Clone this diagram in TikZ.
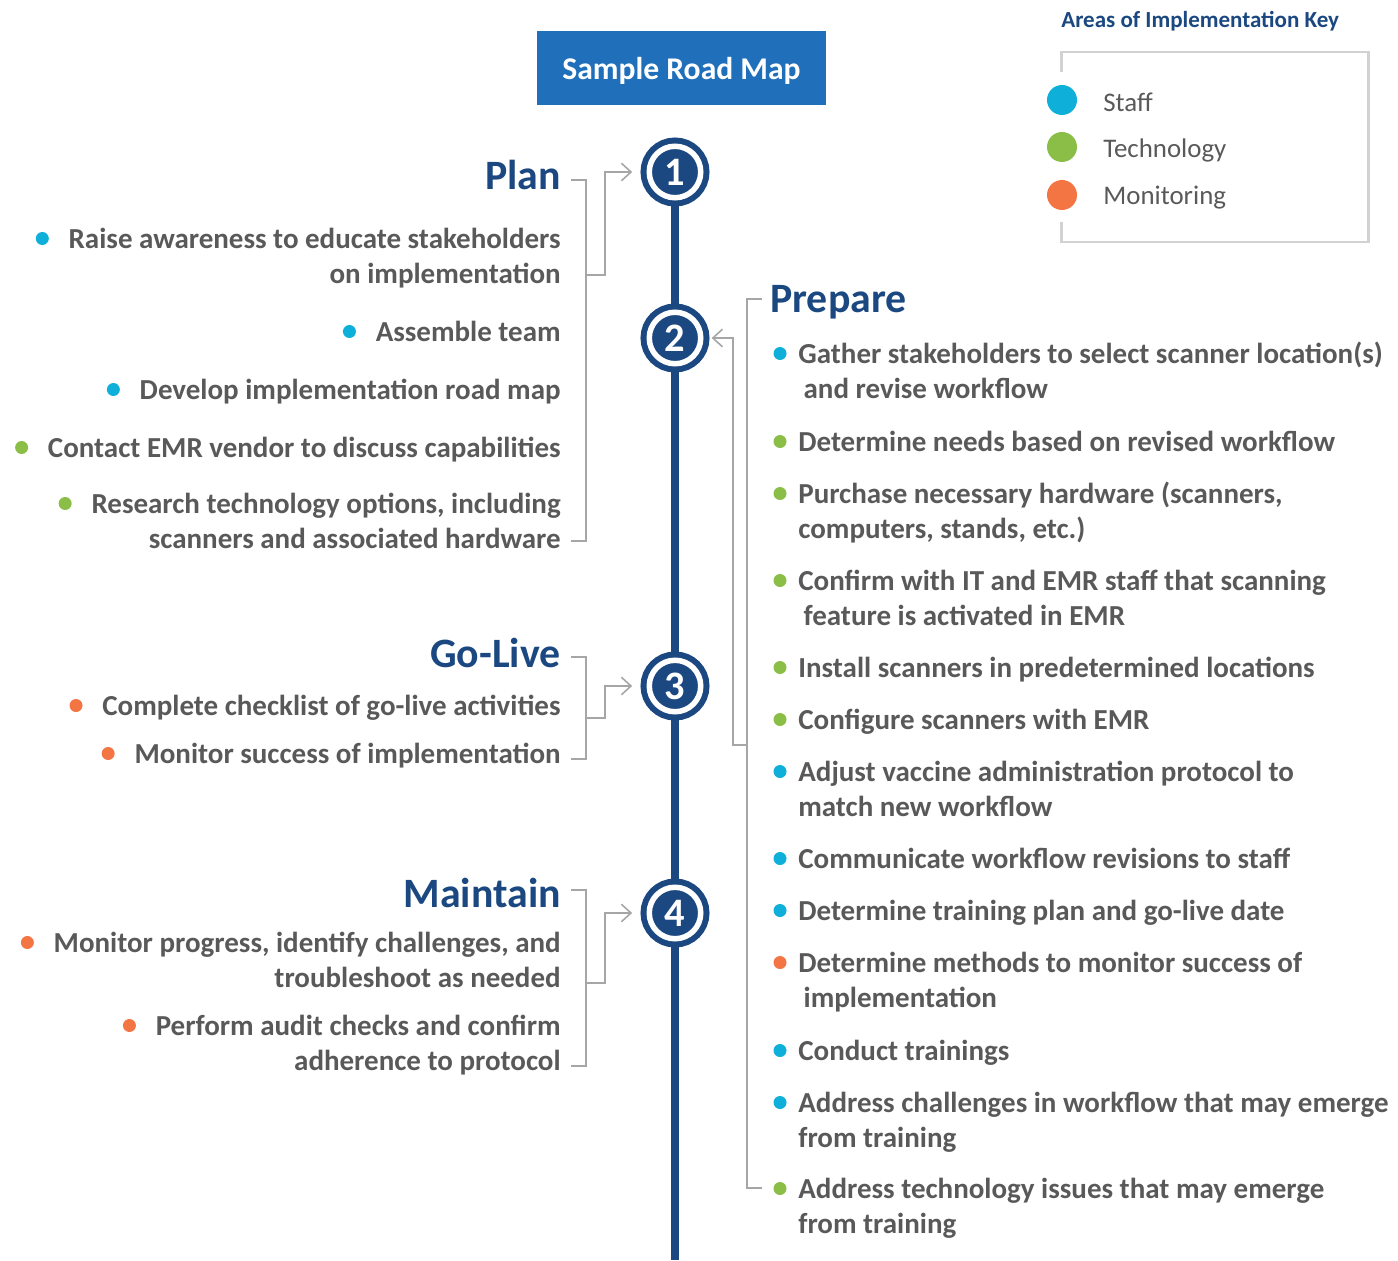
\documentclass[tikz,border=0pt]{standalone}
\usepackage{fontspec}
\setmainfont{Carlito}
\usepackage{xcolor}
\usepackage{tikz}
\usetikzlibrary{arrows.meta,calc}

\definecolor{navy}{RGB}{27,72,128}
\definecolor{titleblue}{RGB}{31,111,186}
\definecolor{textgrey}{RGB}{89,89,89}
\definecolor{linegrey}{RGB}{166,166,166}
\definecolor{keygrey}{RGB}{210,210,210}
\definecolor{staff}{RGB}{14,175,216}
\definecolor{tech}{RGB}{139,190,71}
\definecolor{monitor}{RGB}{243,117,68}

\begin{document}
\begin{tikzpicture}[x=0.02cm,y=-0.02cm]
\tikzstyle{every node}=[inner sep=0pt]
\tikzstyle{phase}=[font=\bfseries\fontsize{23.8}{28}\selectfont,text=navy]
\tikzstyle{item}=[font=\bfseries\fontsize{16.5}{19.9}\selectfont,text=textgrey]
\tikzstyle{litem}=[item,align=right,anchor=base east]
\tikzstyle{ritem}=[item,align=left,anchor=base west]
\tikzstyle{keytext}=[font=\fontsize{15.3}{18}\selectfont,text=textgrey,anchor=base west]
\tikzstyle{stepnum}=[circle,fill=navy,draw=navy,double=white,double distance=0.11cm,
  line width=0.12cm,minimum size=1.03cm,text=white,font=\bfseries\fontsize{23}{23}\selectfont]
\tikzstyle{brk}=[draw=linegrey,line width=0.9pt]
\tikzstyle{brkarrow}=[brk,-{Straight Barb[length=5.5pt,width=10pt]}]

\useasboundingbox (0,0) rectangle (1398,1260);

% title and key
\node[fill=titleblue,text=white,minimum width=5.78cm,minimum height=1.48cm,text depth=0pt,
  font=\bfseries\fontsize{18}{20}\selectfont] (title) at (681.5,68) {Sample Road Map};

\node[anchor=base west,text=navy,font=\bfseries\fontsize{13.1}{15}\selectfont] (keytitle) at (1061,28) {Areas of Implementation Key};
\draw[keygrey,line width=1.7pt] (1061,72) -- (1061,52) -- (1368,52) -- (1368,242) -- (1061,242) -- (1061,222);
\fill[staff] (1062,100) circle (15);
\fill[tech] (1062,147) circle (15);
\fill[monitor] (1062,195) circle (15);
\node[keytext] (kstaff) at (1103,112) {Staff};
\node[keytext] (ktech) at (1103,158) {Technology};
\node[keytext] (kmon) at (1103,205) {Monitoring};

% timeline
\coordinate (top) at (675,172);
\coordinate (bottom) at (675,1260);
\draw[navy,line width=4.5pt] (top) -- (bottom);
\node[stepnum] (c1) at (675,172) {1};
\node[stepnum] (c2) at (675,338) {2};
\node[stepnum] (c3) at (675,686) {3};
\node[stepnum] (c4) at (675,913) {4};

% plan
\node[phase,anchor=base east] (plan) at (561,190) {Plan};
\node[litem] (raise) at (561,283) {Raise awareness to educate stakeholders\\on implementation};
\node[litem] (assemble) at (561,341) {Assemble team};
\node[litem] (develop) at (561,399) {Develop implementation road map};
\node[litem] (contact) at (561,457) {Contact EMR vendor to discuss capabilities};
\node[litem] (research) at (561,548) {Research technology options, including\\scanners and associated hardware};
\fill[staff] ($(raise.base west)+(-26,-44.5)$) circle (6.5);
\fill[staff] ($(assemble.base west)+(-26,-9.5)$) circle (6.5);
\fill[staff] ($(develop.base west)+(-26,-9.5)$) circle (6.5);
\fill[tech] ($(contact.base west)+(-26,-9.5)$) circle (6.5);
\fill[tech] ($(research.base west)+(-26,-44.5)$) circle (6.5);
\coordinate (plantop) at (571,180);
\coordinate (planbot) at (571,541);
\draw[brk] (plantop) -- ++(15,0) |- (planbot);
\draw[brkarrow,shorten >=8pt] (586,275) -- (605,275) |- (c1);

% go-live
\node[phase,anchor=base east] (golive) at (561,667) {Go-Live};
\node[litem] (checklist) at (561,715) {Complete checklist of go-live activities};
\node[litem] (success) at (561,763) {Monitor success of implementation};
\fill[monitor] ($(checklist.base west)+(-26,-9.5)$) circle (6.5);
\fill[monitor] ($(success.base west)+(-26,-9.5)$) circle (6.5);
\coordinate (livetop) at (571,657);
\coordinate (livebot) at (571,759);
\draw[brk] (livetop) -- ++(15,0) |- (livebot);
\draw[brkarrow,shorten >=8pt] (586,718) -- (605,718) |- (c3);

% maintain
\node[phase,anchor=base east] (maintain) at (561,907) {Maintain};
\node[litem] (progress) at (561,987) {Monitor progress, identify challenges, and\\troubleshoot as needed};
\node[litem] (audit) at (561,1070) {Perform audit checks and confirm\\adherence to protocol};
\fill[monitor] ($(progress.base west)+(-26,-44.5)$) circle (6.5);
\fill[monitor] ($(audit.base west)+(-26,-44.5)$) circle (6.5);
\coordinate (maintop) at (571,890);
\coordinate (mainbot) at (571,1066);
\draw[brk] (maintop) -- ++(15,0) |- (mainbot);
\draw[brkarrow,shorten >=8pt] (586,983) -- (605,983) |- (c4);

% prepare
\node[phase,anchor=base west] (prepare) at (770,313) {Prepare};
\node[ritem] (gather) at (798,398) {Gather stakeholders to select scanner location(s)\\\hspace{3pt}and revise workflow};
\node[ritem] (needs) at (798,451) {Determine needs based on revised workflow};
\node[ritem] (purchase) at (798,538) {Purchase necessary hardware (scanners,\\computers, stands, etc.)};
\node[ritem] (confirm) at (798,625) {Confirm with IT and EMR staff that scanning\\\hspace{3pt}feature is activated in EMR};
\node[ritem] (install) at (798,677) {Install scanners in predetermined locations};
\node[ritem] (configure) at (798,729) {Configure scanners with EMR};
\node[ritem] (adjust) at (798,816) {Adjust vaccine administration protocol to\\match new workflow};
\node[ritem] (communicate) at (798,868) {Communicate workflow revisions to staff};
\node[ritem] (trainplan) at (798,920) {Determine training plan and go-live date};
\node[ritem] (methods) at (798,1007) {Determine methods to monitor success of\\\hspace{3pt}implementation};
\node[ritem] (conduct) at (798,1060) {Conduct trainings};
\node[ritem] (workflow) at (798,1147) {Address challenges in workflow that may emerge\\from training};
\node[ritem] (techissues) at (798,1233) {Address technology issues that may emerge\\from training};
\fill[staff] ($(gather.base west)+(-18,-44.5)$) circle (6.5);
\fill[tech] ($(needs.base west)+(-18,-9.5)$) circle (6.5);
\fill[tech] ($(purchase.base west)+(-18,-44.5)$) circle (6.5);
\fill[tech] ($(confirm.base west)+(-18,-44.5)$) circle (6.5);
\fill[tech] ($(install.base west)+(-18,-9.5)$) circle (6.5);
\fill[tech] ($(configure.base west)+(-18,-9.5)$) circle (6.5);
\fill[staff] ($(adjust.base west)+(-18,-44.5)$) circle (6.5);
\fill[staff] ($(communicate.base west)+(-18,-9.5)$) circle (6.5);
\fill[staff] ($(trainplan.base west)+(-18,-9.5)$) circle (6.5);
\fill[monitor] ($(methods.base west)+(-18,-44.5)$) circle (6.5);
\fill[staff] ($(conduct.base west)+(-18,-9.5)$) circle (6.5);
\fill[staff] ($(workflow.base west)+(-18,-44.5)$) circle (6.5);
\fill[tech] ($(techissues.base west)+(-18,-44.5)$) circle (6.5);
\coordinate (preptop) at (762,299);
\coordinate (prepbot) at (762,1188);
\draw[brk] (preptop) -- ++(-15,0) |- (prepbot);
\draw[brkarrow,shorten >=4.5pt] (747,745) -- (733,745) |- (c2);

\end{tikzpicture}
\end{document}
